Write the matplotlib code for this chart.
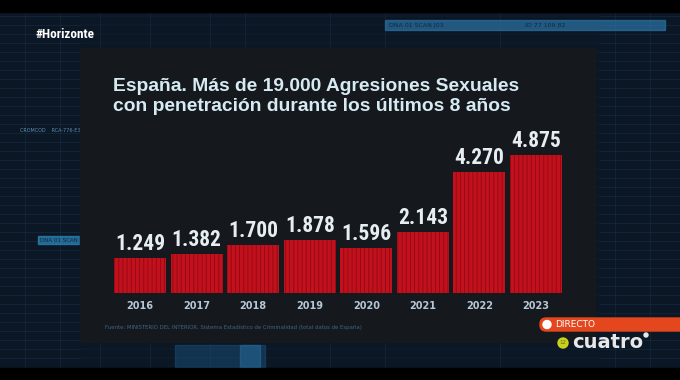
import numpy as np
import matplotlib.pyplot as plt
from matplotlib import font_manager
from matplotlib.patches import Rectangle, FancyBboxPatch, Circle

# Datos
anios = ['2016', '2017', '2018', '2019', '2020', '2021', '2022', '2023']
agresiones = [1249, 1382, 1700, 1878, 1596, 2143, 4270, 4875]
etiquetas = ['1.249', '1.382', '1.700', '1.878', '1.596', '2.143', '4.270', '4.875']

titulo = 'España. Más de 19.000 Agresiones Sexuales\ncon penetración durante los últimos 8 años'
fuente = ('Fuente: MINISTERIO DEL INTERIOR. Sistema Estadístico de Criminalidad '
          '(total datos de España)')

# buscar una fuente estrecha con negrita si hay alguna instalada
def _peso(w):
    if isinstance(w, str):
        return 700 if 'bold' in w.lower() or 'black' in w.lower() or 'heavy' in w.lower() else 400
    return w

fuentes = font_manager.fontManager.ttflist
estrechas = {}
for f in fuentes:
    if 'Condensed' in f.name or 'Narrow' in f.name or f.stretch in ('condensed', 'semi-condensed'):
        estrechas.setdefault(f.name, []).append(_peso(f.weight))
con_negrita = [n for n, ws in estrechas.items() if max(ws) >= 600]
preferidas = ['Roboto Condensed', 'Liberation Sans Narrow', 'DejaVu Sans Condensed',
              'Open Sans Condensed', 'Noto Sans Condensed']
elegida = [n for n in preferidas if n in con_negrita] + sorted(con_negrita)
narrow = elegida[:1] + ['DejaVu Sans']
hay_estrecha = bool(elegida)

fig = plt.figure(figsize=(6.8, 3.8), dpi=100)
fig.patch.set_facecolor('#0b1724')

# fondo en coordenadas de pixel
bg = fig.add_axes([0, 0, 1, 1])
bg.set_xlim(0, 680)
bg.set_ylim(380, 0)
bg.axis('off')
bg.set_facecolor('#0b1724')

# bandas negras arriba / abajo
bg.add_patch(Rectangle((0, 0), 680, 12, color='black', zorder=1))
bg.add_patch(Rectangle((0, 368), 680, 12, color='black', zorder=1))

# elementos tipo pantalla de datos
for y in np.arange(16, 365, 9):
    bg.plot([0, 80], [y, y], color='#14304a', lw=0.4, zorder=0.5)
    bg.plot([600, 680], [y, y], color='#14304a', lw=0.4, zorder=0.5)
    bg.plot([80, 600], [y, y], color='#12283f', lw=0.3, zorder=0.5)
for x in [25, 60, 100, 150, 210, 245, 330, 385, 500, 615, 650]:
    bg.plot([x, x], [12, 368], color='#142c44', lw=0.4, zorder=0.5)
bg.add_patch(Rectangle((385, 20), 280, 10, color='#2a6f9e', alpha=0.75, zorder=0.8))
bg.text(389, 25.5, 'DNA 01 SCAN J03', color='#0c2a44', fontsize=4.5, va='center', zorder=1)
bg.text(525, 25.5, 'ID 77 109 82', color='#0c2a44', fontsize=4.5, va='center', zorder=1)
bg.add_patch(Rectangle((38, 236), 44, 8, color='#2a7fb0', alpha=0.8, zorder=0.8))
bg.text(40, 240, 'DNA 01 SCAN', color='#0c2a44', fontsize=4, va='center', zorder=1)
bg.text(20, 131, 'CROMCOD    RCA-776-E3R', color='#5d8fb3', fontsize=3.5, va='center', zorder=1)
bg.add_patch(Rectangle((175, 345), 90, 22, color='#1a4f7c', alpha=0.5, zorder=0.8))
bg.add_patch(Rectangle((240, 345), 20, 22, color='#2a6f9e', alpha=0.5, zorder=0.8))

# panel central
bg.add_patch(Rectangle((80, 48), 515, 294, color='#15181d', zorder=2))

bg.text(35, 35, '#Horizonte', color='white', fontsize=9.5 if hay_estrecha else 7.5,
        fontweight='bold', family=narrow, va='center', zorder=3)

bg.text(113, 111, titulo, color='#d6eaf2', fontsize=13.9, fontweight='bold',
        family=['Liberation Sans', 'DejaVu Sans'], va='baseline', ha='left',
        linespacing=1.25, zorder=3)

bg.text(105, 327, fuente, color='#3d6485', fontsize=3.9, va='center', zorder=3)

# DIRECTO y logo
bg.add_patch(FancyBboxPatch((540, 318), 150, 13, boxstyle='round,pad=0,rounding_size=6',
                            color='#e4461d', zorder=3))
bg.add_patch(Circle((547, 324.5), 4, color='white', zorder=4))
bg.text(555, 324.5, 'DIRECTO', color='white', fontsize=6.5, va='center', zorder=4)
bg.add_patch(Circle((563, 343), 5, color='#c8d21e', zorder=4))
bg.text(563, 343, '12', color='#6a6a10', fontsize=4, ha='center', va='center', zorder=5)
bg.text(572, 343, 'cuatro', color='#e8e8e8', fontsize=14, fontweight='bold',
        va='center', zorder=4)
bg.add_patch(Circle((646, 335), 2, color='#e8e8e8', zorder=4))

# grafico de barras
ax = fig.add_axes([110 / 680, 87 / 380, 456 / 680, 153 / 380])
ax.set_facecolor('none')
x = np.arange(len(anios))
plt.rcParams['hatch.linewidth'] = 0.6
ax.bar(x, agresiones, width=0.92, color='#c2101c', edgecolor='#8e0a14',
       linewidth=0, hatch='||||', zorder=3)
for xi, v, t in zip(x, agresiones, etiquetas):
    ax.text(xi, v + 100, t, ha='center', va='bottom', color='#e6eef2',
            fontsize=15.5 if hay_estrecha else 11.5, fontweight='bold',
            family=narrow, zorder=4)
ax.set_xlim(-0.53, 7.53)
ax.set_ylim(0, 5400)
ax.set_xticks(x)
ax.set_xticklabels(anios, color='#b4c8d8', fontsize=7, fontweight='bold')
ax.tick_params(axis='x', length=0, pad=6)
ax.set_yticks([])
for s in ax.spines.values():
    s.set_visible(False)

fig.savefig('out.png', dpi=100, facecolor=fig.get_facecolor())
